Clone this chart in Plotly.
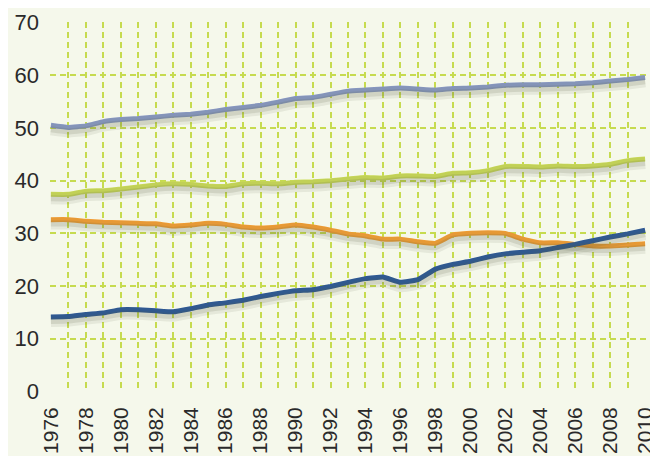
import plotly.graph_objects as go

years = list(range(1976, 2011))

series_top = [50.5, 50.1, 50.4, 51.2, 51.6, 51.8, 52.1, 52.4, 52.6, 53.0,
              53.5, 53.9, 54.3, 54.9, 55.6, 55.8, 56.4, 57.0, 57.2, 57.4,
              57.6, 57.4, 57.2, 57.5, 57.6, 57.8, 58.1, 58.2, 58.2, 58.3,
              58.4, 58.6, 58.9, 59.2, 59.6]
series_lime = [37.4, 37.4, 38.0, 38.1, 38.4, 38.8, 39.2, 39.4, 39.3, 39.0,
               38.9, 39.4, 39.5, 39.4, 39.7, 39.8, 40.0, 40.3, 40.6, 40.5,
               40.9, 40.9, 40.8, 41.4, 41.5, 41.9, 42.7, 42.7, 42.6, 42.8,
               42.7, 42.8, 43.1, 43.8, 44.1]
series_orange = [32.6, 32.6, 32.3, 32.1, 32.0, 31.9, 31.8, 31.4, 31.6, 31.9,
                 31.7, 31.2, 31.0, 31.2, 31.6, 31.2, 30.6, 29.9, 29.5, 28.9,
                 28.9, 28.4, 28.1, 29.7, 30.0, 30.1, 30.0, 28.9, 28.2, 28.2,
                 27.9, 27.6, 27.6, 27.8, 28.0]
series_dark = [14.1, 14.2, 14.6, 14.9, 15.5, 15.5, 15.3, 15.1, 15.7, 16.4,
               16.8, 17.3, 18.0, 18.6, 19.1, 19.3, 19.9, 20.7, 21.4, 21.7,
               20.7, 21.2, 23.2, 24.1, 24.7, 25.5, 26.1, 26.4, 26.7, 27.3,
               27.9, 28.6, 29.3, 29.9, 30.6]

series = [
    (series_top, "#8a9ac6"),
    (series_lime, "#cddd5a"),
    (series_orange, "#f7a035"),
    (series_dark, "#2c5898"),
]

x_ticks = list(range(1976, 2011, 2))
y_ticks = list(range(0, 71, 10))

fig = go.Figure()

# soft shadows drawn on an offset overlay axis
for vals, col in series:
    fig.add_trace(go.Scatter(x=years, y=vals, mode="lines", yaxis="y2",
                             line=dict(color="rgba(90,95,70,0.10)", width=12, shape="spline", smoothing=0.3),
                             hoverinfo="skip", showlegend=False))
    fig.add_trace(go.Scatter(x=years, y=vals, mode="lines", yaxis="y2",
                             line=dict(color="rgba(90,95,70,0.15)", width=6, shape="spline", smoothing=0.3),
                             hoverinfo="skip", showlegend=False))

for vals, col in series:
    fig.add_trace(go.Scatter(x=years, y=vals, mode="lines",
                             line=dict(color=col, width=5, shape="spline", smoothing=0.3),
                             showlegend=False))

grid_col = "#c6db50"
grid_dash = "6px,4px"
fig.update_layout(
    width=650, height=448,
    margin=dict(l=42, r=2, t=10, b=60),
    paper_bgcolor="#f5f8eb",
    plot_bgcolor="#f5f8eb",
    font=dict(family="Liberation Sans, Arial, sans-serif", color="#2a2a2a"),
    xaxis=dict(range=[1975.95, 2010.05], tickvals=x_ticks, ticktext=[str(v) for v in x_ticks],
               tickangle=-90, tickfont=dict(size=21), showgrid=True, gridcolor=grid_col,
               griddash=grid_dash, gridwidth=1.5, zeroline=False, showline=False,
               ticks="", ticklabelstandoff=10, ticklabeloverflow="allow",
               minor=dict(dtick=1, tick0=1976, showgrid=True, gridcolor=grid_col,
                          griddash=grid_dash, gridwidth=1.5)),
    yaxis=dict(range=[-0.12, 70.12], tickvals=y_ticks, tickfont=dict(size=22), showgrid=True,
               gridcolor=grid_col, griddash=grid_dash, gridwidth=1.5, zeroline=False,
               showline=False, ticks="", ticklabelstandoff=10, ticklabeloverflow="allow"),
    yaxis2=dict(range=[0.63, 70.87], overlaying="y", visible=False, showgrid=False),
)

fig.write_html("out.html")
